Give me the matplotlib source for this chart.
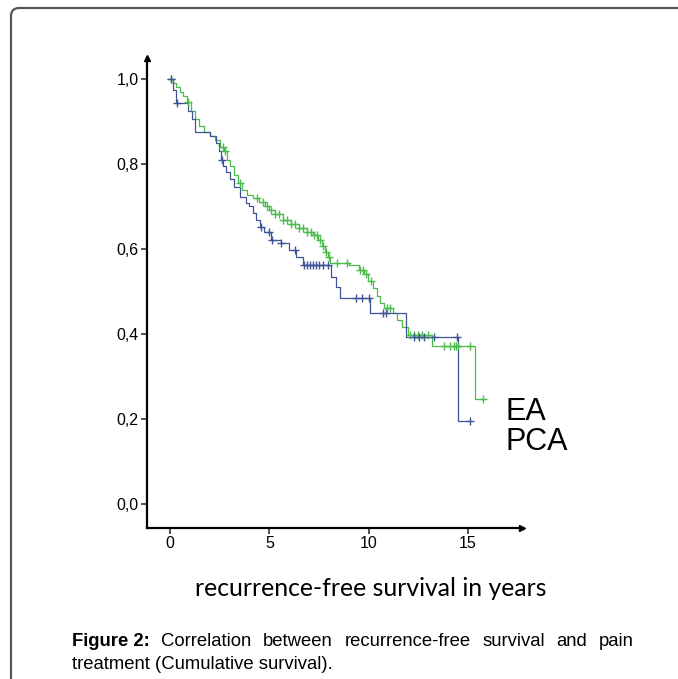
import numpy as np
import matplotlib.pyplot as plt
from matplotlib.patches import FancyBboxPatch
from matplotlib.ticker import FuncFormatter

# Kaplan-Meier steps (years, cumulative survival)
ea_t = [0, 0.15, 0.3, 0.5, 0.65, 0.85, 1.05, 1.25, 1.45, 1.7, 2.0, 2.25, 2.5, 2.7,
        2.85, 3.0, 3.2, 3.4, 3.6, 3.9, 4.2, 4.5, 4.8, 5.0, 5.3, 5.7, 6.1, 6.5, 6.9,
        7.2, 7.45, 7.65, 7.8, 7.95, 8.05, 9.0, 9.5, 9.75, 9.95, 10.2, 10.4, 10.55,
        10.75, 11.2, 11.4, 11.7, 12.0, 13.2, 15.35, 15.77]
ea_s = [1.0, 0.99, 0.98, 0.97, 0.96, 0.945, 0.925, 0.905, 0.89, 0.876, 0.866, 0.856,
        0.84, 0.83, 0.81, 0.795, 0.775, 0.755, 0.738, 0.728, 0.72, 0.71, 0.70, 0.692,
        0.683, 0.668, 0.658, 0.649, 0.64, 0.633, 0.62, 0.607, 0.593, 0.58, 0.568,
        0.562, 0.551, 0.54, 0.525, 0.508, 0.49, 0.474, 0.46, 0.449, 0.433, 0.417,
        0.398, 0.372, 0.246, 0.246]
ea_cens = [0.05, 0.9, 2.65, 2.75, 3.5, 4.4, 4.7, 4.9, 5.1, 5.3, 5.5, 5.7, 5.9, 6.1,
           6.3, 6.5, 6.7, 6.9, 7.1, 7.25, 7.4, 7.55, 7.7, 7.85, 8.0, 8.4, 8.9, 9.55,
           9.7, 9.85, 10.1, 10.9, 11.05, 12.1, 12.3, 12.5, 12.7, 13.0, 13.8, 14.1,
           14.3, 14.4, 14.5, 15.1, 15.77]

pca_t = [0, 0.15, 0.3, 0.9, 1.1, 1.25, 2.0, 2.3, 2.45, 2.55, 2.65, 2.8, 3.0, 3.2,
         3.5, 3.85, 4.0, 4.2, 4.35, 4.55, 4.75, 5.1, 5.6, 6.0, 6.35, 6.7, 8.1, 8.35,
         8.55, 10.05, 11.9, 14.5, 15.1]
pca_s = [1.0, 0.975, 0.943, 0.925, 0.905, 0.876, 0.865, 0.849, 0.83, 0.81, 0.795,
         0.78, 0.765, 0.747, 0.723, 0.708, 0.70, 0.684, 0.668, 0.652, 0.641, 0.621,
         0.613, 0.598, 0.582, 0.562, 0.535, 0.511, 0.484, 0.449, 0.394, 0.196, 0.196]
pca_cens = [0.05, 0.34, 2.6, 4.6, 5.0, 5.15, 5.6, 6.3, 6.75, 6.9, 7.05, 7.2, 7.35,
            7.5, 7.7, 7.95, 9.35, 9.65, 10.0, 10.7, 10.85, 12.3, 12.55, 12.8, 13.3,
            14.45, 15.1]

green = '#4cbc4c'
blue = '#3f5597'


def surv_at(t, s, x):
    idx = np.searchsorted(t, x, side='right') - 1
    return np.asarray(s)[idx]


fig = plt.figure(figsize=(6.78, 6.79), dpi=100)
W, H = 678, 679

# rounded frame of the figure panel
frame = FancyBboxPatch((11 / W, -0.05), 1.1, 1 - 8 / H + 0.05,
                       boxstyle='round,pad=0,rounding_size=0.012',
                       transform=fig.transFigure, fill=False,
                       edgecolor='#555555', linewidth=1.6)
fig.patches.append(frame)

ax = fig.add_axes([147 / W, 1 - 528 / H, (521.7 - 147) / W, (528 - 58) / H])
ax.set_xlim(-1.157, 17.70)
ax.set_ylim(-0.0565, 1.0494)

ax.plot(ea_t, ea_s, drawstyle='steps-post', color=green, lw=0.9)
ax.plot(pca_t, pca_s, drawstyle='steps-post', color=blue, lw=0.9)
ax.plot(ea_cens, surv_at(ea_t, ea_s, ea_cens), '+', color=green, ms=6, mew=1.0)
ax.plot(pca_cens, surv_at(pca_t, pca_s, pca_cens), '+', color=blue, ms=6, mew=1.0)

for side in ['top', 'right']:
    ax.spines[side].set_visible(False)
for side in ['left', 'bottom']:
    ax.spines[side].set_linewidth(1.6)
ax.plot(1, 0, '>k', ms=4, transform=ax.transAxes, clip_on=False)
ax.plot(0, 1, '^k', ms=4, transform=ax.transAxes, clip_on=False)

ax.set_xticks([0, 5, 10, 15])
ax.set_yticks([0, 0.2, 0.4, 0.6, 0.8, 1.0])
ax.yaxis.set_major_formatter(FuncFormatter(lambda v, p: f'{v:.1f}'.replace('.', ',')))
ax.tick_params(length=4, width=1.2, color='#333333', labelsize=11.5, pad=2)
for lab in ax.get_xticklabels() + ax.get_yticklabels():
    lab.set_fontfamily('Liberation Sans')

ax.text(16.9, 0.198, 'EA', fontsize=22, family='Liberation Sans', va='baseline')
ax.text(16.9, 0.127, 'PCA', fontsize=22, family='Liberation Sans', va='baseline')

fig.text(371 / W, 1 - 588 / H, 'recurrence-free survival in years',
         family='Lato', fontsize=17.8, ha='center', va='center')

# caption, first line justified between x=72 and x=634
cap_words = ['Figure 2:', 'Correlation', 'between', 'recurrence-free', 'survival', 'and', 'pain']
fig.canvas.draw()
renderer = fig.canvas.get_renderer()
texts = []
for i, w in enumerate(cap_words):
    t = fig.text(0, 1 - 646 / H, w, family='Liberation Sans', fontsize=13.3,
                 fontweight='bold' if i == 0 else 'normal', va='baseline')
    texts.append(t)
widths = [t.get_window_extent(renderer).width for t in texts]
gap = (634 - 72 - sum(widths)) / (len(widths) - 1)
x = 72
for t, wd in zip(texts, widths):
    t.set_x(x / W)
    x += wd + gap
fig.text(72 / W, 1 - 669 / H, 'treatment (Cumulative survival).',
         family='Liberation Sans', fontsize=13.3, va='baseline')

fig.savefig('out.png', dpi=100)
